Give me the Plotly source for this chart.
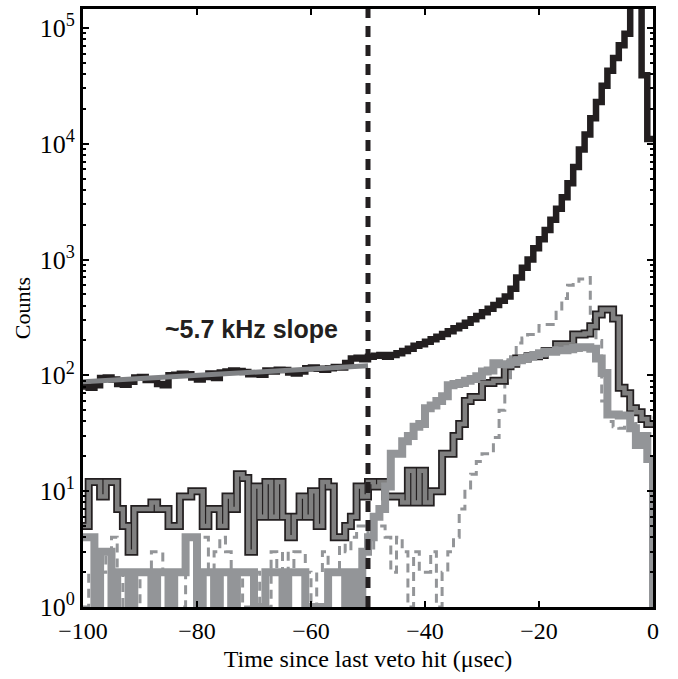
import plotly.graph_objects as go

# ---- data (1 µs bins from -100 to 0 µs) ----
EDGES = list(range(-100, 1))

BLACK = [80, 78, 82, 95, 96, 92, 84, 83, 88, 96,
         97, 91, 92, 84, 82, 100, 101, 103, 102, 96,
         92, 97, 104, 95, 106, 108, 110, 109, 107, 102,
         104, 101, 110, 108, 112, 111, 106, 104, 108, 115,
         117, 114, 112, 115, 118, 117, 128, 140, 142, 138,
         145, 148, 150, 145, 150, 155, 162, 170, 180, 186,
         195, 205, 215, 228, 240, 255, 268, 285, 305, 325,
         350, 375, 405, 440, 480, 560, 700, 850, 1000, 1250,
         1500, 1800, 2200, 2750, 3450, 4550, 6300, 8900, 12000, 16600,
         22900, 31600, 42700, 55000, 70800, 89000, 400000, 400000, 39000, 11000]

DARK = [5, 12, 12, 9, 12, 12, 7, 5, 3, 7,
        7, 7, 8, 7, 7, 5, 5, 9, 9, 10,
        10, 5, 7, 7, 5, 9, 7, 14, 13, 3,
        11, 6, 12, 6, 12, 6, 4, 6, 9, 6,
        10, 5, 12, 11, 4, 4, 5, 6, 11, 9,
        12, 11, 12, 9, 9, 9, 8, 15, 8, 15,
        8, 10, 10, 21, 21, 30, 38, 60, 65, 65,
        86, 86, 90, 90, 120, 126, 140, 140, 146, 146,
        150, 162, 162, 186, 186, 186, 225, 225, 230, 265,
        335, 370, 370, 310, 78, 70, 52, 48, 42, 38]

LIGHT = [4, 4, 1, 3, 3, 1, 2, 2, 1, 2,
         2, 2, 1, 2, 2, 1, 2, 2, 4, 4,
         1, 2, 2, 1, 2, 2, 1, 2, 2, 2,
         1, 1, 2, 2, 2, 1, 2, 2, 2, 1,
         1, 1, 1, 2, 2, 2, 1, 2, 1, 3,
         4, 6, 7, 11, 21, 21, 27, 30, 36, 38,
         52, 55, 60, 66, 82, 84, 86, 90, 93, 98,
         108, 110, 127, 125, 125, 130, 135, 140, 145, 150,
         155, 160, 160, 165, 165, 168, 172, 175, 175, 170,
         140, 105, 46, 46, 45, 45, 35, 25, 30, 19]
LIGHT_TAIL = 1

DASHED = [1, 2, 1, 2, 3, 4, 2, 1, 1, 1,
          2, 2, 3, 3, 2, 1, 1, 1, 2, 2,
          4, 4, 2, 3, 4, 3, 2, 2, 1, 1,
          2, 1, 1, 3, 2, 3, 2, 3, 3, 2,
          1, 2, 3, 2, 2, 4, 3, 4, 5, 5,
          3, 5, 5, 4, 2, 4, 3, 1, 3, 2,
          2, 3, 1, 2, 3, 4, 7, 10, 14, 18,
          21, 21, 29, 50, 85, 150, 190, 210, 225, 225,
          270, 275, 275, 350, 460, 600, 610, 680, 700, 300,
          200, 60, 40, 36, 35, 38, 38, 40, 40, 43]

FIT_X = [-100, -50]
FIT_Y = [88, 121]

VETO_CUT = -50
ANNOT_TEXT = "~5.7 kHz slope"
ANNOT_X = -70.5
ANNOT_LOGY = 2.40

X_TICKS = [-100, -80, -60, -40, -20, 0]
X_TICKTEXT = ["\u2212100", "\u221280", "\u221260", "\u221240", "\u221220", "0"]
Y_TICKS = [1, 10, 100, 1000, 10000, 100000]
Y_TICKTEXT = ["10<sup>%d</sup>" % i for i in range(6)]

BLACK_C = "#231f20"
DARK_C = "#808080"
LIGHT_C = "#939598"
FIT_C = "#808285"

def step(vals, tail=None):
    xs = list(EDGES)
    ys = list(vals) + [vals[-1]]
    if tail is not None:
        xs.append(EDGES[-1])
        ys.append(tail)
    return xs, ys

fig = go.Figure()

x, y = step(DASHED)
fig.add_trace(go.Scatter(x=x, y=y, mode="lines", line_shape="hv",
                         line=dict(color=LIGHT_C, width=3, dash="9px,6px")))

x, y = step(DARK)
fig.add_trace(go.Scatter(x=x, y=y, mode="lines", line_shape="hv",
                         line=dict(color=BLACK_C, width=8)))
fig.add_trace(go.Scatter(x=x, y=y, mode="lines", line_shape="hv",
                         line=dict(color=DARK_C, width=4.5)))

x, y = step(LIGHT, LIGHT_TAIL)
fig.add_trace(go.Scatter(x=x, y=y, mode="lines", line_shape="hv",
                         line=dict(color=LIGHT_C, width=8)))

x, y = step(BLACK)
fig.add_trace(go.Scatter(x=x, y=y, mode="lines", line_shape="hv",
                         line=dict(color=BLACK_C, width=6.5)))

fig.add_trace(go.Scatter(x=FIT_X, y=FIT_Y, mode="lines",
                         line=dict(color=FIT_C, width=5)))

fig.add_vline(x=VETO_CUT, line=dict(color=BLACK_C, width=5, dash="11px,8px"))

fig.add_annotation(x=ANNOT_X, y=ANNOT_LOGY, text="<b>%s</b>" % ANNOT_TEXT,
                   showarrow=False, xref="x", yref="y",
                   font=dict(family="Liberation Sans", size=25, color=BLACK_C))

minor_vals = [k * 10 ** d for d in range(0, 6) for k in range(2, 10)]

fig.update_layout(
    width=678, height=679,
    margin=dict(l=83, r=25, t=6, b=72),
    paper_bgcolor="white", plot_bgcolor="white",
    showlegend=False,
    font=dict(family="Liberation Serif", size=23, color="black"),
    xaxis=dict(range=[-100, 0], tickmode="array", tickvals=X_TICKS,
               ticktext=X_TICKTEXT, ticks="inside", ticklen=6, tickwidth=2,
               tickcolor="black", showline=True, linecolor="black",
               linewidth=3, mirror="ticks", showgrid=False, zeroline=False,
               tickfont=dict(size=24),
               title=dict(text="Time since last veto hit (\u03bcsec)",
                          font=dict(size=24), standoff=8)),
    yaxis=dict(type="log", range=[0, 5.163], tickmode="array",
               tickvals=Y_TICKS, ticktext=Y_TICKTEXT, ticks="inside",
               ticklen=6, tickwidth=2, tickcolor="black", showline=True,
               linecolor="black", linewidth=3, mirror="ticks",
               showgrid=False, zeroline=False,
               tickfont=dict(size=26),
               minor=dict(tickmode="array", tickvals=minor_vals,
                          ticks="inside", ticklen=3, tickwidth=1.5,
                          tickcolor="black", showgrid=False),
               title=dict(text="Counts", font=dict(size=22), standoff=4)),
)

fig.write_html("out.html")
